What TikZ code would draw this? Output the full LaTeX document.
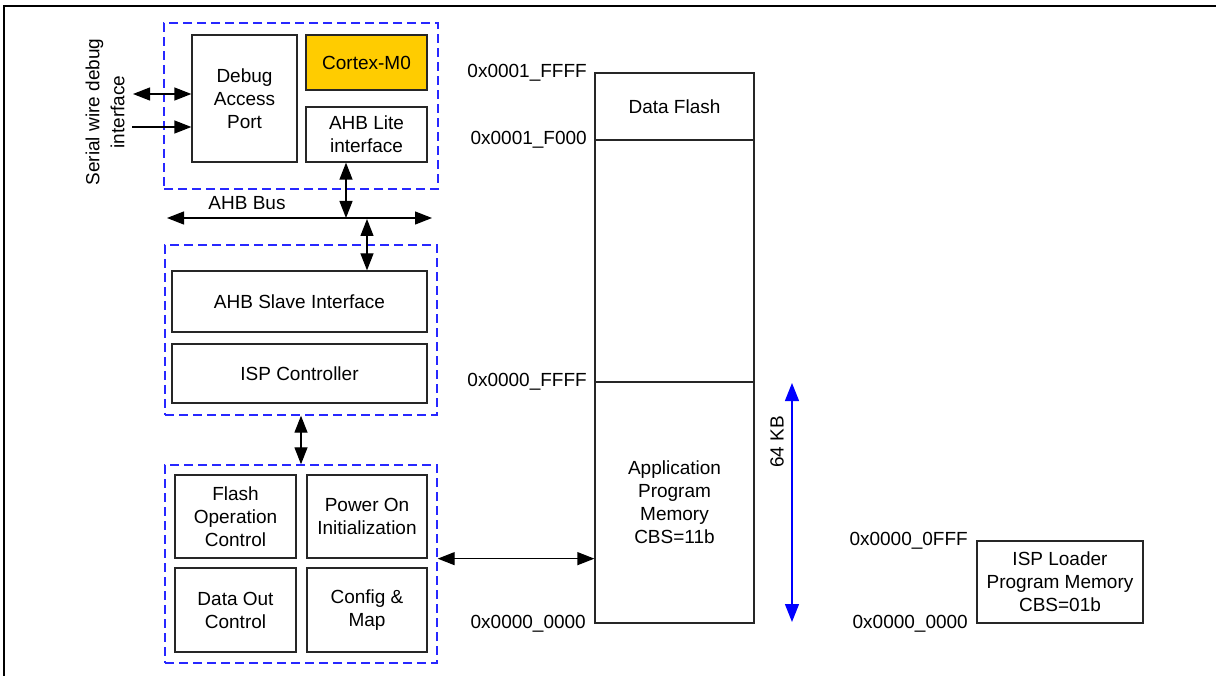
\documentclass[tikz,border=0pt]{standalone}
\usepackage{fontspec}
\setmainfont{Liberation Sans}
\usetikzlibrary{arrows.meta}
\definecolor{groupblue}{RGB}{40,40,255}
\definecolor{coregold}{RGB}{255,204,0}
\tikzset{
  every node/.style={font=\fontsize{19}{23}\selectfont},
  blk/.style={draw=black!85, line width=1.3pt, fill=white, align=center, inner sep=0pt},
  grp/.style={draw=groupblue, line width=1.4pt, dash pattern=on 9pt off 5pt, inner sep=0pt},
  lbl/.style={inner sep=0pt, anchor=east},
  tip/.tip={Triangle[length=17pt,width=13pt]},
  dbl/.style={line width=1.3pt, tip-tip},
  sgl/.style={line width=1.3pt, -tip},
  kb/.style={line width=1.4pt, draw=blue, fill=blue, {Triangle[length=18pt,width=14pt]}-{Triangle[length=18pt,width=14pt]}}
}
\begin{document}
\begin{tikzpicture}[x=1pt,y=-1pt]
\useasboundingbox (0,0) rectangle (1216,676);
% frame edges
\draw[line width=2.5pt] (4,676) -- (4,6) -- (1216,6);

% core group
\node[grp, minimum width=274pt, minimum height=166pt] (topgrp) at (301,106) {};
\node[blk, minimum width=105pt, minimum height=127pt] (dap) at (244.5,98.5) {Debug\\Access\\Port};
\node[blk, fill=coregold, minimum width=121pt, minimum height=55pt] (cortex) at (366.5,62.5) {Cortex-M0};
\node[blk, minimum width=121pt, minimum height=55pt] (ahblite) at (366.5,134.5) {AHB Lite\\interface};

% serial wire debug
\node[rotate=90, align=center, inner sep=0pt, font=\fontsize{19}{25}\selectfont] (swdlbl) at (105,112) {Serial wire debug\\interface};
\coordinate (swdA) at (133,94);
\coordinate (swdB) at (132,127);
\draw[dbl] (swdA) -- (swdA -| dap.west);
\draw[sgl] (swdB) -- (swdB -| dap.west);

% AHB bus
\coordinate (busL) at (167,218);
\coordinate (busR) at (432,218);
\coordinate (liteTap) at (346,218);
\coordinate (busTap) at (367,219);
\draw[dbl] (busL) -- (busR);
\node[inner sep=0pt] (buslbl) at (247,203) {AHB Bus};
\draw[dbl] (liteTap |- ahblite.south) -- (liteTap);

% ISP group
\node[grp, minimum width=272pt, minimum height=170pt] (midgrp) at (301,330) {};
\node[blk, minimum width=255pt, minimum height=61pt] (slave) at (299.5,301.5) {AHB Slave Interface};
\node[blk, minimum width=255pt, minimum height=59pt] (ispc) at (299.5,373.5) {ISP Controller};
\draw[dbl] (busTap) -- (busTap |- slave.north);

% flash control group
\node[grp, minimum width=272pt, minimum height=198pt] (botgrp) at (301,564) {};
\node[blk, minimum width=121pt, minimum height=83pt] (foc) at (235.5,516.5) {Flash\\Operation\\Control};
\node[blk, minimum width=120pt, minimum height=83pt] (poi) at (367,516.5) {Power On\\Initialization};
\node[blk, minimum width=121pt, minimum height=84pt] (doc) at (235.5,610) {Data Out\\Control};
\node[blk, minimum width=120pt, minimum height=84pt] (cfg) at (367,610) {Config \&\\Map};
\draw[dbl] (midgrp.south) -- (botgrp.north);

% memory map
\node[blk, minimum width=159pt, minimum height=67pt] (df) at (674.5,106.5) {Data Flash};
\node[blk, minimum width=159pt, minimum height=242pt] (upper) at (674.5,261) {};
\node[blk, minimum width=159pt, minimum height=241pt] (app) at (674.5,502.5) {Application\\Program\\Memory\\CBS=11b};
\draw[dbl] (botgrp.east |- foc.south) -- (app.west |- foc.south);

\node[lbl] (a1) at (587,73) {0x0001\_FFFF};
\node[lbl] (a2) at (587,140) {0x0001\_F000};
\node[lbl] (a3) at (587,382) {0x0000\_FFFF};
\node[lbl] (a4) at (586,624) {0x0000\_0000};

% 64 KB span
\coordinate (kbTop) at (792,383);
\coordinate (kbBot) at (792,622);
\draw[kb] (kbTop) -- (kbBot);
\node[rotate=90, inner sep=0pt] (kblbl) at (777,442) {64 KB};

% ISP loader
\node[blk, minimum width=166pt, minimum height=82pt] (ldr) at (1060,582) {ISP Loader\\Program Memory\\CBS=01b};
\node[lbl] (b1) at (968,541) {0x0000\_0FFF};
\node[lbl] (b2) at (968,624) {0x0000\_0000};
\end{tikzpicture}
\end{document}
